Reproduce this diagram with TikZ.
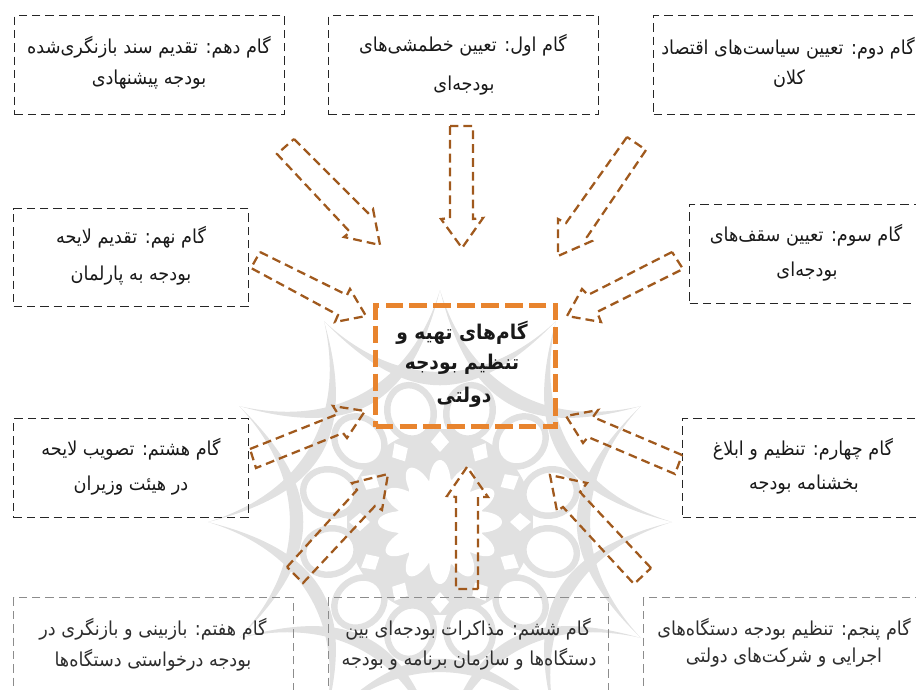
\documentclass[tikz,border=0pt]{standalone}
\usepackage{fontspec}
\TeXXeTstate=1
\newfontfamily\fa[Script=Arabic,FakeStretch=0.92]{DejaVu Sans}
\newfontfamily\fab[Script=Arabic,FakeStretch=0.92]{DejaVu Sans Bold}
\definecolor{wm}{HTML}{E1E1E1}
\definecolor{arrowbrown}{HTML}{A0591D}
\definecolor{centerorange}{HTML}{E8842E}
\definecolor{fadeline}{HTML}{8C8C8C}
\definecolor{fadetext}{HTML}{2E2E2E}
\tikzset{
  stepbox/.style={draw=black!85,line width=1.1pt,dash pattern=on 6.2pt off 3.8pt,inner sep=0pt,anchor=north west},
  fadebox/.style={stepbox,draw=fadeline},
  centerbox/.style={draw=centerorange,line width=4pt,dash pattern=on 13.2pt off 4.7pt,inner sep=0pt,anchor=north west},
  stepline/.style={text=black!90,inner sep=0pt},
  fadeline text/.style={stepline,text=fadetext},
  centerline text/.style={text=black!90,inner sep=0pt},
  blockarrow/.style={draw=arrowbrown,line width=1.7pt,dash pattern=on 6.6pt off 3.8pt,miter limit=4},
}
\newcommand{\rtl}[1]{\beginR #1\endR}
\newcommand{\nf}{\fa\fontsize{14.4}{16}\selectfont}
\newcommand{\cf}{\fab\fontsize{15.2}{17}\selectfont}
\begin{document}
\begin{tikzpicture}[x=0.75pt,y=-0.75pt]
\useasboundingbox (0,0) rectangle (916,689);
\clip (0,0) rectangle (916,689);
% watermark
\begin{scope}[shift={(440,522)}]
  \foreach \a in {0,30,...,330}{
    \fill[wm] (\a:232) .. controls (\a+12:140) and (\a+48:140) .. (\a+60:232)
              .. controls (\a+46:120) and (\a+14:120) .. cycle;
  }
  \fill[wm] (0,0) circle (93);
  \foreach \a in {15,45,...,345}{
    \draw[wm,line width=4.8pt,fill=white,rotate=\a] (114,0) ellipse (27 and 23);
  }
  \foreach \a in {0,30,...,330}{
    \fill[white,rotate=\a] (70,0) -- (80,9) -- (91,0) -- (80,-9) -- cycle;
  }
  \fill[white] plot[domain=0:360,samples=200,smooth cycle] ({(42+20*abs(cos(6*\x)))*cos(\x)},{(42+20*abs(cos(6*\x)))*sin(\x)});
\end{scope}
% boxes
\node[stepbox,minimum width=202.5pt,minimum height=74.25pt] (b10) at (14,15) {};
\node[stepbox,minimum width=202.5pt,minimum height=74.25pt] (b1) at (328,15) {};
\node[stepbox,minimum width=210pt,minimum height=74.25pt] (b2) at (653,15) {};
\node[stepbox,minimum width=176.25pt,minimum height=73.5pt] (b9) at (13,208) {};
\node[stepbox,minimum width=180pt,minimum height=74.25pt] (b3) at (689,204) {};
\node[stepbox,minimum width=176.25pt,minimum height=74.25pt] (b8) at (13,418) {};
\node[stepbox,minimum width=180pt,minimum height=74.25pt] (b4) at (682,418) {};
\node[fadebox,minimum width=210pt,minimum height=90pt] (b7) at (13,597) {};
\node[fadebox,minimum width=210pt,minimum height=90pt] (b6) at (328,597) {};
\node[fadebox,minimum width=240pt,minimum height=90pt] (b5) at (643,597) {};
\node[centerbox,minimum width=135pt,minimum height=90.75pt] (c) at (373,303) {};
% texts
\node[stepline] (t10a) at (149,47) {\nf\rtl{گام دهم: تقدیم سند بازنگری‌شده}};
\node[stepline] (t10b) at (149,80) {\nf\rtl{بودجه پیشنهادی}};
\node[stepline] (t1a) at (463,45) {\nf\rtl{گام اول: تعیین خطمشی‌های}};
\node[stepline] (t1b) at (464,86) {\nf\rtl{بودجه‌ای}};
\node[stepline] (t2a) at (788,48) {\nf\rtl{گام دوم: تعیین سیاست‌های اقتصاد}};
\node[stepline] (t2b) at (789,79) {\nf\rtl{کلان}};
\node[stepline] (t9a) at (131,237) {\nf\rtl{گام نهم: تقدیم لایحه}};
\node[stepline] (t9b) at (131,276) {\nf\rtl{بودجه به پارلمان}};
\node[stepline] (t3a) at (806,235) {\nf\rtl{گام سوم: تعیین سقف‌های}};
\node[stepline] (t3b) at (807,272) {\nf\rtl{بودجه‌ای}};
\node[stepline] (t8a) at (131,449) {\nf\rtl{گام هشتم: تصویب لایحه}};
\node[stepline] (t8b) at (131,486) {\nf\rtl{در هیئت وزیران}};
\node[stepline] (t4a) at (803,449) {\nf\rtl{گام چهارم: تنظیم و ابلاغ}};
\node[stepline] (t4b) at (804,485) {\nf\rtl{بخشنامه بودجه}};
\node[fadeline text] (t7a) at (153,629) {\nf\rtl{گام هفتم: بازبینی و بازنگری در}};
\node[fadeline text] (t7b) at (153,660) {\nf\rtl{بودجه درخواستی دستگاه‌ها}};
\node[fadeline text] (t6a) at (468,629) {\nf\rtl{گام ششم: مذاکرات بودجه‌ای بین}};
\node[fadeline text] (t6b) at (469,659) {\nf\rtl{دستگاه‌ها و سازمان برنامه و بودجه}};
\node[fadeline text] (t5a) at (784,629) {\nf\rtl{گام پنجم: تنظیم بودجه دستگاه‌های}};
\node[fadeline text] (t5b) at (784,658) {\nf\rtl{اجرایی و شرکت‌های دولتی}};
\node[centerline text] (ca) at (462,333) {\cf\rtl{گام‌های تهیه و}};
\node[centerline text] (cb) at (462,364) {\cf\rtl{تنظیم بودجه}};
\node[centerline text] (cd) at (464,397) {\cf\rtl{دولتی}};
% block arrows
\draw[blockarrow] (294,139) -- (368,213) -- (373,209) -- (380,245) -- (344,237) -- (350,232) -- (277,154) -- cycle;
\draw[blockarrow] (450,126) -- (450,218) -- (441,219) -- (462,248) -- (483,218) -- (473,219) -- (473,126) -- cycle;
\draw[blockarrow] (627,137) -- (566,223) -- (558,219) -- (558,256) -- (592,241) -- (587,237) -- (646,150) -- cycle;
\draw[blockarrow] (672,252) -- (588,295) -- (582,289) -- (567,316) -- (601,322) -- (597,312) -- (683,269) -- cycle;
\draw[blockarrow] (682,455) -- (593,417) -- (598,410) -- (566,416) -- (583,443) -- (588,437) -- (675,474) -- cycle;
\draw[blockarrow] (651,568) -- (580,492) -- (587,483) -- (550,475) -- (557,511) -- (563,507) -- (634,584) -- cycle;
\draw[blockarrow] (478,589) -- (478,497) -- (488,497) -- (467,467) -- (447,496) -- (456,497) -- (456,589) -- cycle;
\draw[blockarrow] (287,567) -- (357,490) -- (352,483) -- (388,474) -- (382,510) -- (375,506) -- (303,583) -- cycle;
\draw[blockarrow] (250,449) -- (338,414) -- (333,406) -- (365,411) -- (347,438) -- (343,433) -- (256,468) -- cycle;
\draw[blockarrow] (260,252) -- (347,295) -- (350,289) -- (366,316) -- (335,322) -- (338,315) -- (251,268) -- cycle;
\end{tikzpicture}
\end{document}
